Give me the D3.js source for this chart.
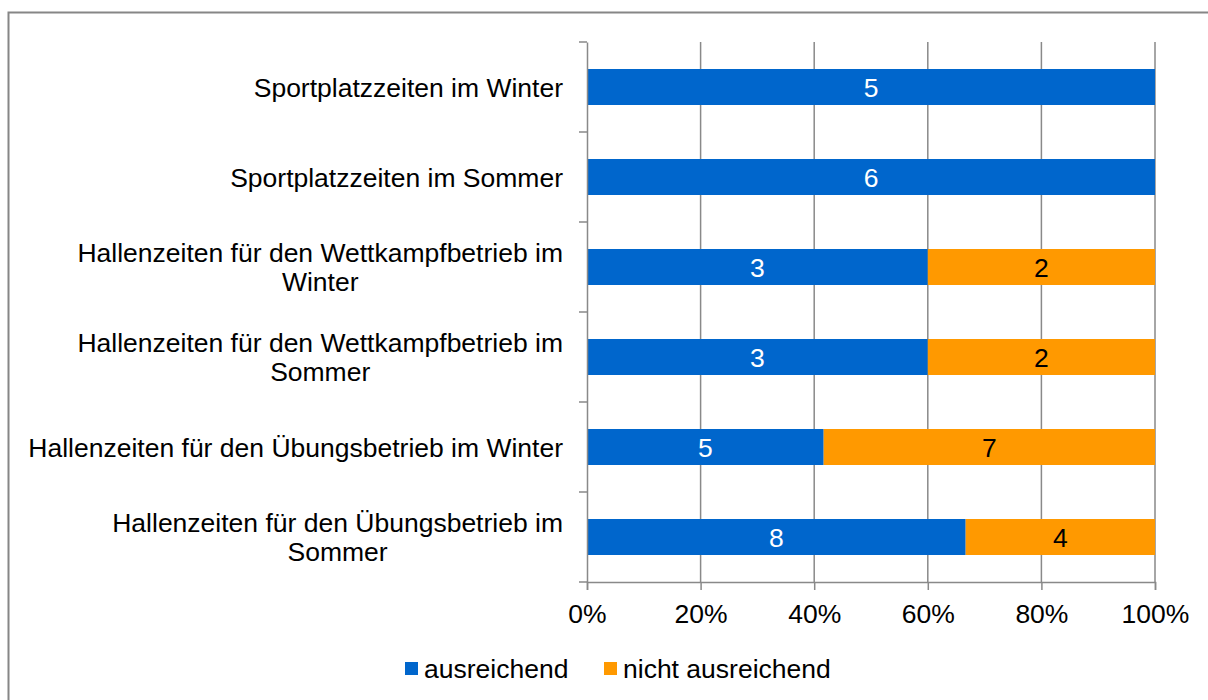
<!DOCTYPE html>
<html><head><meta charset="utf-8">
<script src="https://cdn.jsdelivr.net/npm/d3@7"></script>
<style>body{margin:0;background:#fff}svg{display:block;font-family:"Liberation Sans",Arial,sans-serif}</style>
</head><body>
<svg id="c" width="1208" height="700"></svg>
<script>
const categories = [
  ["Sportplatzzeiten im Winter"],
  ["Sportplatzzeiten im Sommer"],
  ["Hallenzeiten für den Wettkampfbetrieb im", "Winter"],
  ["Hallenzeiten für den Wettkampfbetrieb im", "Sommer"],
  ["Hallenzeiten für den Übungsbetrieb im Winter"],
  ["Hallenzeiten für den Übungsbetrieb im", "Sommer"]
];
const seriesNames = ["ausreichend", "nicht ausreichend"];
const ausreichend = [5, 6, 3, 3, 5, 8];
const nichtAusreichend = [0, 0, 2, 2, 7, 4];
const xTicks = [0, 0.2, 0.4, 0.6, 0.8, 1.0];
const colors = ["#0066CC", "#FF9900"];
const labelColors = ["#ffffff", "#000000"];

const svg = d3.select("#c");
const grey = "#898989";
const fs = 26.5;
const x0 = 587, x1 = 1155, yTop = 42, yBot = 582;

svg.append("rect").attr("x", 8.5).attr("y", 12.5).attr("width", 1230).attr("height", 720)
  .attr("fill", "none").attr("stroke", "#868686").attr("stroke-width", 2);

const x = d3.scaleLinear().domain([0, 1]).range([x0, x1]);
const y = d3.scaleBand().domain(d3.range(categories.length)).range([yTop, yBot]).paddingInner(0.6).paddingOuter(0.3);
const yb = d3.scaleBand().domain(d3.range(categories.length)).range([yTop, yBot]);

// gridlines
svg.append("g").selectAll("line").data(xTicks.slice(1)).join("line")
  .attr("x1", d => x(d)).attr("x2", d => x(d)).attr("y1", yTop).attr("y2", yBot)
  .attr("stroke", grey).attr("stroke-width", 1.5);

// stacked data
const rows = categories.map((c, i) => {
  const tot = ausreichend[i] + nichtAusreichend[i];
  const vals = [ausreichend[i], nichtAusreichend[i]];
  let acc = 0;
  return vals.map((v, s) => { const a = acc / tot; acc += v; return {i, s, v, a, b: acc / tot}; });
}).flat().filter(d => d.v > 0);

svg.append("g").selectAll("rect").data(rows).join("rect")
  .attr("x", d => x(d.a)).attr("width", d => x(d.b) - x(d.a))
  .attr("y", d => y(d.i)).attr("height", y.bandwidth())
  .attr("fill", d => colors[d.s]);

svg.append("g").selectAll("text").data(rows).join("text")
  .attr("x", d => (x(d.a) + x(d.b)) / 2).attr("y", d => y(d.i) + y.bandwidth() / 2)
  .attr("dy", "0.36em").attr("text-anchor", "middle").attr("font-size", fs)
  .attr("fill", d => labelColors[d.s]).text(d => d.v);

// axes
const xAxis = svg.append("g").attr("transform", `translate(0,${yBot})`)
  .call(d3.axisBottom(x).tickValues(xTicks).tickFormat(d3.format(".0%")).tickSize(8).tickPadding(14));
const yAxis = svg.append("g").attr("transform", `translate(${x0},0)`)
  .call(d3.axisLeft(yb).tickValues([]).tickSize(0));
[xAxis, yAxis].forEach(g => {
  g.select(".domain").attr("stroke", grey).attr("stroke-width", 1.5);
  g.selectAll(".tick line").attr("stroke", grey).attr("stroke-width", 1.5);
  g.selectAll("text").attr("font-size", fs).attr("fill", "#000").attr("font-family", "Liberation Sans, Arial, sans-serif");
});
// y tick marks at band boundaries
svg.append("g").selectAll("line").data(d3.range(categories.length + 1)).join("line")
  .attr("x1", x0 - 8).attr("x2", x0)
  .attr("y1", d => yTop + d * yb.step()).attr("y2", d => yTop + d * yb.step())
  .attr("stroke", grey).attr("stroke-width", 1.5);

// category labels
const lh = 29;
categories.forEach((lines, i) => {
  const cy = yb(i) + yb.bandwidth() / 2;
  const startY = cy - (lines.length - 1) * lh / 2;
  const t0 = svg.append("text").attr("x", 563).attr("y", startY).attr("dy", "0.36em")
    .attr("text-anchor", "end").attr("font-size", fs).attr("fill", "#000").text(lines[0]);
  const w = t0.node().getComputedTextLength();
  const center = 563 - w / 2;
  lines.slice(1).forEach((ln, k) => {
    svg.append("text").attr("x", center).attr("y", startY + (k + 1) * lh).attr("dy", "0.36em")
      .attr("text-anchor", "middle").attr("font-size", fs).attr("fill", "#000").text(ln);
  });
});

// legend
const leg = svg.append("g");
const legX = [405, 604];
seriesNames.forEach((n, s) => {
  leg.append("rect").attr("x", legX[s]).attr("y", 662).attr("width", 13).attr("height", 13).attr("fill", colors[s]);
  leg.append("text").attr("x", legX[s] + 19).attr("y", 668).attr("dy", "0.36em").attr("font-size", fs).attr("fill", "#000").text(n);
});
</script>
</body></html>
